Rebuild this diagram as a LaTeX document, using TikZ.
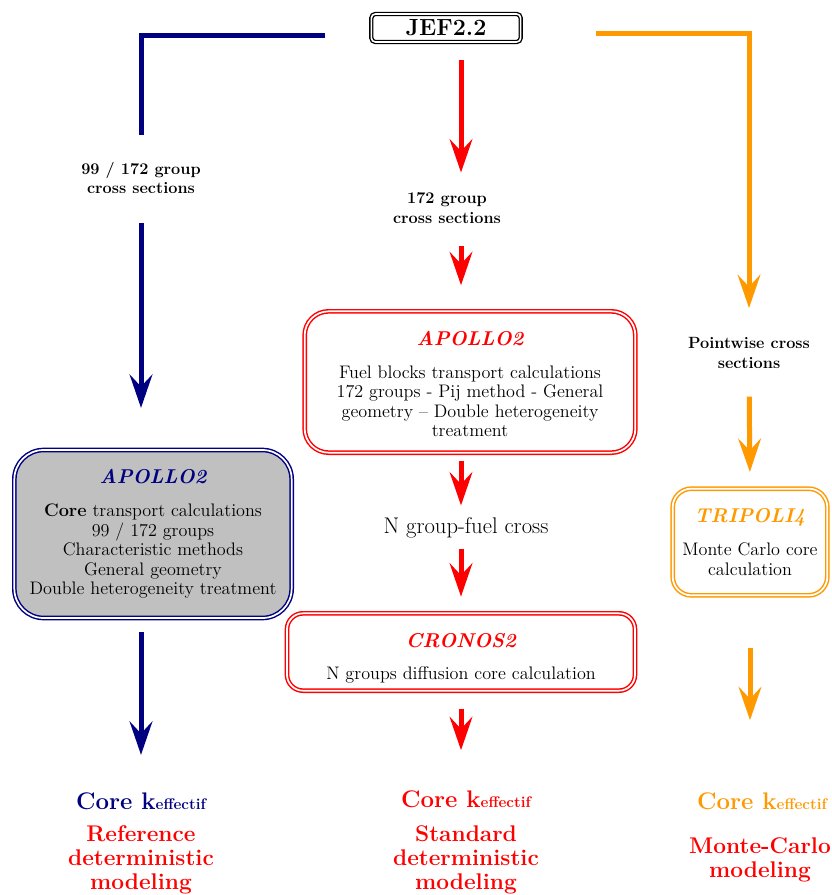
\documentclass[tikz,border=0pt]{standalone}
\usepackage{tikz}
\usetikzlibrary{arrows.meta,positioning}
\usepackage{xcolor}
\definecolor{navyblue}{RGB}{0,0,128}
\definecolor{mcorange}{RGB}{255,153,0}
\definecolor{boxgray}{RGB}{192,192,192}
\newcommand{\Ctitle}[2]{{\fontsize{15}{16}\selectfont\bfseries\itshape\textcolor{#1}{#2}}}
\newcommand{\Keff}[1]{\textcolor{#1}{\fontsize{18}{20}\selectfont\bfseries Core k{\fontsize{11.5}{12}\selectfont effectif}}}
\tikzset{
  codebox/.style={double,line width=1.1pt,double distance=1.3pt,align=center,
    inner sep=2pt,font=\fontsize{13.6}{14.6}\selectfont},
  xslabel/.style={inner sep=0pt,align=center,font=\fontsize{12.2}{14.5}\selectfont\bfseries},
  result/.style={inner sep=0pt,align=center,text=red,font=\fontsize{17}{18}\selectfont\bfseries},
  flow/.style={line width=3.75pt,-{Stealth[length=25pt,width=17pt,inset=9pt]}},
}
\begin{document}
\begin{tikzpicture}[x=0.75pt,y=-0.75pt]
\useasboundingbox (0,0) rectangle (831,895);
% \draw[help lines] (0,0) grid[step=50] (831,895);
\node (jef) [draw=black,double,line width=1pt,double distance=1.2pt,rounded corners=3pt,
  minimum width=112pt,minimum height=21pt,inner sep=0pt,
  font=\fontsize{17.5}{18}\selectfont\bfseries] at (446,28) {JEF2.2};
%
\node (xs99) [xslabel] at (141,178) {99 / 172 group\\cross sections};
\node (apb) [codebox,draw=navyblue,fill=boxgray,rounded corners=22pt,
  minimum width=208pt,minimum height=126pt] at (153,534)
  {\Ctitle{navyblue}{APOLLO2}\\[10pt]
   \textbf{Core} transport calculations\\99 / 172 groups\\Characteristic methods\\
   General geometry\\Double heterogeneity treatment};
\node (kb) [inner sep=0pt] at (141,801) {\Keff{navyblue}};
\node (refb) [result] at (141,860) {Reference\\deterministic\\modeling};
%
\node (xs172) [xslabel] at (447,208) {172 group\\cross sections};
\node (apr) [codebox,draw=red,rounded corners=18pt,
  minimum width=248pt,minimum height=106pt] at (470,382)
  {\rule{0pt}{14pt}\Ctitle{red}{APOLLO2}\\[10pt]
   Fuel blocks transport calculations\\172 groups - Pij method - General\\
   geometry -- Double heterogeneity\\treatment};
\node (ngf) [inner sep=0pt,font=\fontsize{17}{18}\selectfont] at (466,528) {N group-fuel cross};
\node (cro) [codebox,draw=red,rounded corners=12pt,
  minimum width=261pt,minimum height=58pt] at (461,652)
  {\rule{0pt}{20pt}\Ctitle{red}{CRONOS2}\\[10pt]N groups diffusion core calculation};
\node (kr) [inner sep=0pt] at (466,799) {\Keff{red}};
\node (stdr) [result] at (466,860) {Standard\\deterministic\\modeling};
%
\node (xspw) [xslabel] at (749,353) {Pointwise cross\\sections};
\node (tri) [codebox,draw=mcorange,rounded corners=14pt,
  minimum width=116pt,minimum height=80pt] at (750,542)
  {\Ctitle{mcorange}{TRIPOLI4}\\[10pt]Monte Carlo core\\calculation};
\node (ko) [inner sep=0pt] at (762,801) {\Keff{mcorange}};
\node (mco) [result] at (760,860) {Monte-Carlo\\modeling};
%
\draw[navyblue,line width=3.75pt,shorten <=34pt,shorten >=20pt]
  ([yshift=-6pt]jef.west) -| (xs99.north);
\draw[flow,navyblue,shorten <=22pt,shorten >=31pt] (xs99.south) -- (xs99.south |- apb.north);
\draw[flow,navyblue,shorten <=10pt,shorten >=28pt] (apb.south -| kb) -- (kb.north);
%
\draw[flow,red,shorten <=13pt,shorten >=15pt] (jef.south -| cro) -- (xs172.north -| cro);
\draw[flow,red,shorten <=17pt,shorten >=19pt] (xs172.south -| cro) -- (apr.north -| cro);
\draw[flow,red,shorten <=6pt,shorten >=9pt] (apr.south -| cro) -- (ngf.north -| cro);
\draw[flow,red,shorten <=8pt,shorten >=12pt] (ngf.south -| cro) -- (cro.north);
\draw[flow,red,shorten <=13pt,shorten >=30pt] (cro.south) -- (kr.north -| cro);
%
\draw[flow,mcorange,shorten <=56pt,shorten >=22pt]
  ([yshift=-4.5pt]jef.east) -| (xspw.north);
\draw[flow,mcorange,shorten <=21pt,shorten >=12pt] (xspw.south) -- (tri.north);
\draw[flow,mcorange,shorten <=39pt,shorten >=54pt] (tri.south) -- (tri.south |- ko.north);
\end{tikzpicture}
\end{document}
